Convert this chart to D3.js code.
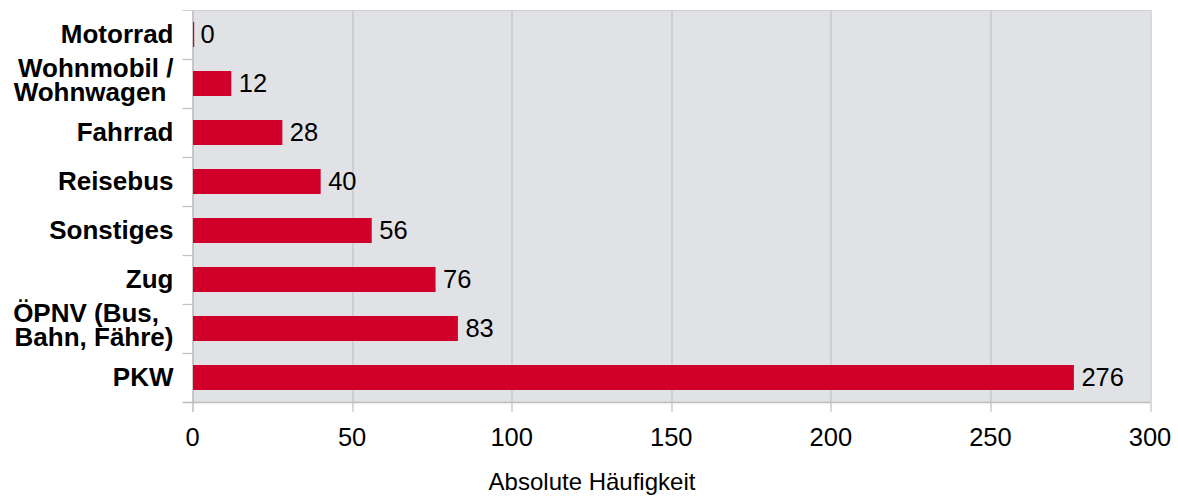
<!DOCTYPE html>
<html>
<head>
<meta charset="utf-8">
<script src="https://cdn.jsdelivr.net/npm/d3@7"></script>
<style>
    body { margin: 0; background: #fff; }
    svg { display: block; font-family: "Liberation Sans", Arial, sans-serif; }
    .cat { font-weight: bold; font-size: 26px; fill: #000; white-space: pre; }
    .val, .tick-lbl { font-size: 25.5px; fill: #000; }
    .title { font-size: 24px; fill: #000; }
</style>
</head>
<body>
<div id="chart"></div>
<script>
    // categories top to bottom, each one split in lines
    var categories = [
        ["Motorrad"],
        ["Wohnmobil /", "Wohnwagen "],
        ["Fahrrad"],
        ["Reisebus"],
        ["Sonstiges"],
        ["Zug"],
        ["ÖPNV (Bus,  ", "Bahn, Fähre)"],
        ["PKW"]
    ];
    var values = [0, 12, 28, 40, 56, 76, 83, 276];
    var xTicks = [0, 50, 100, 150, 200, 250, 300];
    var axisTitle = "Absolute Häufigkeit";

    var width = 1178, height = 498;
    var margin = { top: 10, right: 28, bottom: 96, left: 192.5 };
    var innerW = width - margin.left - margin.right;
    var innerH = height - margin.top - margin.bottom;

    var svg = d3.select("#chart")
        .append("svg")
        .attr("width", width)
        .attr("height", height);

    var g = svg.append("g")
        .attr("transform", "translate(" + margin.left + "," + margin.top + ")");

    var x = d3.scaleLinear().domain([0, 300]).range([0, innerW]);
    var y = d3.scaleBand()
        .domain(d3.range(categories.length))
        .range([0, innerH])
        .paddingInner(0.49)
        .paddingOuter(0.245);

    var band = innerH / categories.length;

    // plot background
    g.append("rect")
        .attr("width", innerW)
        .attr("height", innerH)
        .attr("fill", "#e1e2e6");

    // vertical gridlines + bottom ticks
    g.selectAll("line.grid")
        .data(xTicks)
        .enter()
        .append("line")
        .attr("class", "grid")
        .attr("x1", function (d) { return Math.round(x(d)) + 0.5; })
        .attr("x2", function (d) { return Math.round(x(d)) + 0.5; })
        .attr("y1", 0)
        .attr("y2", innerH + 10)
        .attr("stroke", function (d) { return d === 0 ? "#b4b4b4" : "#c4c4c6"; })
        .attr("stroke-width", 1.3);

    // top and bottom borders
    g.append("line")
        .attr("x1", -10).attr("x2", innerW)
        .attr("y1", 0.5).attr("y2", 0.5)
        .attr("stroke", "#cfcfd2");
    g.append("line")
        .attr("x1", -10).attr("x2", innerW)
        .attr("y1", innerH + 0.5).attr("y2", innerH + 0.5)
        .attr("stroke", "#bdbdbd")
        .attr("stroke-width", 1.3);

    // left category ticks
    g.selectAll("line.ytick")
        .data(d3.range(1, categories.length))
        .enter()
        .append("line")
        .attr("class", "ytick")
        .attr("x1", -10).attr("x2", 0)
        .attr("y1", function (d) { return Math.round(d * band) + 0.5; })
        .attr("y2", function (d) { return Math.round(d * band) + 0.5; })
        .attr("stroke", "#c4c4c6")
        .attr("stroke-width", 1.3);

    // bars
    g.selectAll("rect.bar")
        .data(values)
        .enter()
        .append("rect")
        .attr("class", "bar")
        .attr("x", 0.5)
        .attr("y", function (d, i) { return y(i); })
        .attr("width", function (d) { return Math.max(x(d), 1.2); })
        .attr("height", y.bandwidth())
        .attr("fill", "#d0002a");

    // value labels
    g.selectAll("text.val")
        .data(values)
        .enter()
        .append("text")
        .attr("class", "val")
        .attr("x", function (d) { return x(d) + 8; })
        .attr("y", function (d, i) { return y(i) + y.bandwidth() / 2; })
        .attr("dy", "0.35em")
        .text(function (d) { return d; });

    // category labels
    var cats = g.selectAll("text.cat")
        .data(categories)
        .enter()
        .append("text")
        .attr("class", "cat")
        .attr("text-anchor", "end")
        .attr("x", -19)
        .attr("y", function (d, i) { return y(i) + y.bandwidth() / 2; });

    cats.selectAll("tspan")
        .data(function (d) { return d; })
        .enter()
        .append("tspan")
        .attr("x", -19)
        .attr("dy", function (d, j, nodes) {
            var n = nodes.length;
            var lh = 24;
            if (j === 0) return (0.34 * 26 - (n - 1) * (lh / 2 + 3.6)) + "px";
            return lh + "px";
        })
        .text(function (d) { return d; });

    // x tick labels
    g.selectAll("text.tick-lbl")
        .data(xTicks)
        .enter()
        .append("text")
        .attr("class", "tick-lbl")
        .attr("text-anchor", "middle")
        .attr("x", function (d) { return x(d); })
        .attr("y", innerH + 44)
        .text(function (d) { return d; });

    // axis title
    svg.append("text")
        .attr("class", "title")
        .attr("text-anchor", "middle")
        .attr("x", 592)
        .attr("y", 490)
        .text(axisTitle);
</script>
</body>
</html>
